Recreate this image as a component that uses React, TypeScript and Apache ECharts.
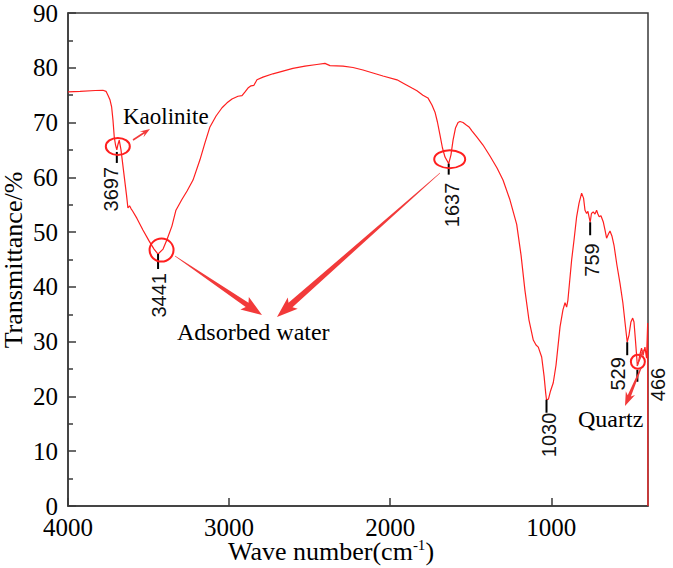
import React, { useEffect, useRef } from "react";
import * as echarts from "echarts";

// FTIR spectrum: wave number (cm-1) against transmittance (%)
const wavenumbers = [
  4000, 3925, 3830, 3783, 3764, 3752, 3739, 3729, 3721, 3713, 3705, 3697, 3690, 3682, 3671, 3652, 3637,
  3628, 3618, 3609, 3600, 3572, 3535, 3497, 3466, 3441, 3410, 3386, 3355, 3330, 3294, 3261, 3224,
  3181, 3150, 3119, 3081, 3044, 3013, 2982, 2945, 2920, 2901, 2883, 2864, 2846, 2827, 2790, 2728,
  2666, 2604, 2529, 2456, 2405, 2374, 2293, 2231, 2169, 2107, 2045, 1958, 1908, 1865, 1834, 1797,
  1766, 1741, 1722, 1707, 1691, 1676, 1660, 1637, 1623, 1610, 1595, 1579, 1567, 1548, 1530, 1511,
  1493, 1463, 1424, 1381, 1337, 1300, 1257, 1215, 1188, 1164, 1139, 1112, 1095, 1081, 1060, 1045,
  1035, 1030, 1018, 1005, 988, 971, 946, 928, 915, 905, 897, 874, 859, 843, 828, 812, 800, 791,
  781, 773, 759, 751, 740, 729, 719, 711, 703, 692, 678, 667, 657, 645, 636, 624, 611, 593, 574,
  556, 543, 529, 518, 506, 495, 487, 478, 466, 459, 450, 440, 430, 419, 409, 402, 400,
];
const transmittance = [
  75.6, 75.7, 75.85, 75.9, 75.7, 75.0, 74.1, 72.8, 70.5, 67.4, 65.9, 65.0, 66.0, 66.8, 65.0, 60.4, 56.8,
  54.4, 54.8, 54.3, 53.9, 52.5, 50.4, 48.4, 46.9, 46.0, 46.9, 48.6, 51.1, 54.0, 55.9, 57.5, 59.5,
  63.2, 66.3, 69.2, 71.2, 72.7, 73.6, 74.3, 74.8, 74.9, 75.6, 76.3, 76.7, 76.8, 77.8, 78.3, 78.9,
  79.4, 79.9, 80.3, 80.6, 80.8, 80.4, 80.3, 80.05, 79.6, 79.05, 78.5, 77.8, 77.0, 76.3, 75.8, 75.0,
  74.5, 73.2, 71.9, 70.1, 67.7, 65.4, 63.7, 62.5, 64.1, 66.8, 69.0, 70.0, 70.2, 70.0, 69.6, 69.2,
  68.5, 67.4, 65.9, 63.9, 61.7, 59.5, 55.9, 51.4, 45.8, 39.4, 34.0, 30.3, 29.4, 29.0, 27.2, 23.7,
  20.6, 19.4, 19.5, 21.0, 22.5, 25.7, 32.7, 35.8, 37.1, 36.3, 37.6, 44.9, 48.6, 52.8, 55.3, 57.1, 56.2, 54.0,
  53.4, 53.8, 51.8, 53.4, 53.7, 53.3, 54.0, 53.3, 52.8, 53.0, 51.9, 50.4, 48.9, 49.7, 50.2, 49.3, 47.6, 44.0, 40.7,
  37.1, 33.6, 29.9, 31.2, 33.6, 34.3, 33.6, 30.3, 25.6, 26.3, 27.7, 28.8, 27.6, 29.0, 27.0, 33.4, 0,
];

// Assigned absorption bands
const peakPositions = [3697, 3441, 1637, 1030, 759, 529, 466];
const peakValues = [65.0, 46.0, 62.5, 19.4, 51.8, 29.9, 25.6];
// Bands that are ringed
const circledPeaks = [3697, 3441, 1637, 466];

const xTickValues = [4000, 3000, 2000, 1000];
const yMin = 0;
const yMax = 90;
const yStep = 10;

const xTitle = "Wave number(cm";
const xTitleSup = "-1";
const yTitle = "Transmittance/%";
const annotationTexts = { kaolinite: "Kaolinite", water: "Adsorbed water", quartz: "Quartz" };

// Label placement relative to each band (pixels): label x shift, tick start/end, label top
const peakLabelLayout: Record<number, { dx: number; t0: number; t1: number; top: number }> = {
  3697: { dx: -6, t0: 2, t1: 13, top: 17 },
  3441: { dx: 1, t0: 0, t1: 15, top: 19 },
  1637: { dx: 3, t0: 0, t1: 11, top: 19 },
  1030: { dx: 2, t0: 0, t1: 13, top: 13 },
  759: { dx: 2, t0: 0, t1: 13, top: 21 },
  529: { dx: -9, t0: 0, t1: 13, top: 15 },
  466: { dx: 21, t0: 4, t1: 16, top: 2 },
};
const circleLayout: Record<number, { dx: number; dy: number; rx: number; ry: number }> = {
  3697: { dx: 1, dy: -3.5, rx: 12, ry: 8.5 },
  3441: { dx: 3.5, dy: -4, rx: 12, ry: 11.5 },
  1637: { dx: 1, dy: -4.5, rx: 15.5, ry: 9 },
  466: { dx: 0.5, dy: -4, rx: 7, ry: 7 },
};

const SERIF = "'Liberation Serif', 'Times New Roman', serif";
const SANS = "'Liberation Sans', Arial, sans-serif";
const RED = "#ff1f1f";
const ARROW = "#f23a3a";
const FRAME = "#3a3a3a";

function arrowPolygon(
  x1: number, y1: number, x2: number, y2: number,
  w0: number, w1: number, headLen: number, headW: number
): number[][] {
  const dx = x2 - x1;
  const dy = y2 - y1;
  const L = Math.hypot(dx, dy);
  const ux = dx / L;
  const uy = dy / L;
  const nx = -uy;
  const ny = ux;
  const bx = x2 - ux * headLen;
  const by = y2 - uy * headLen;
  const wx = bx - ux * 3;
  const wy = by - uy * 3;
  return [
    [x1 + (nx * w0) / 2, y1 + (ny * w0) / 2],
    [bx + (nx * w1) / 2, by + (ny * w1) / 2],
    [wx + (nx * headW) / 2, wy + (ny * headW) / 2],
    [x2, y2],
    [wx - (nx * headW) / 2, wy - (ny * headW) / 2],
    [bx - (nx * w1) / 2, by - (ny * w1) / 2],
    [x1 - (nx * w0) / 2, y1 - (ny * w0) / 2],
  ];
}

function arrow(x1: number, y1: number, x2: number, y2: number, w0: number, w1: number, hl: number, hw: number) {
  return {
    type: "polygon",
    z: 10,
    shape: { points: arrowPolygon(x1, y1, x2, y2, w0, w1, hl, hw) },
    style: { fill: ARROW, stroke: "none" },
  };
}

export default function App() {
  const ref = useRef<HTMLDivElement>(null);

  useEffect(() => {
    if (!ref.current) return;
    const chart = echarts.init(ref.current, undefined, { renderer: "svg" });

    const spectrum = wavenumbers.map((w, i) => [w, transmittance[i]]);
    const peaks = peakPositions.map((w, i) => [w, peakValues[i]]);
    const rings = circledPeaks.map((w) => [w, peakValues[peakPositions.indexOf(w)]]);

    chart.setOption({
      animation: false,
      backgroundColor: "#ffffff",
      grid: {
        left: 68,
        right: 25,
        top: 13,
        bottom: 62,
        show: true,
        borderColor: FRAME,
        borderWidth: 1.5,
        backgroundColor: "transparent",
      },
      xAxis: {
        type: "value",
        min: 400,
        max: 4000,
        inverse: true,
        axisLine: { show: true, lineStyle: { color: FRAME, width: 1.5 } },
        axisTick: {
          show: true,
          inside: true,
          length: 8,
          customValues: xTickValues,
          lineStyle: { color: FRAME, width: 1.5 },
        },
        axisLabel: {
          customValues: xTickValues,
          formatter: (v: number) => String(v),
          color: "#000",
          fontFamily: SERIF,
          fontSize: 25,
          lineHeight: 18,
          margin: 12,
        },
        splitLine: { show: false },
      },
      yAxis: {
        type: "value",
        min: yMin,
        max: yMax,
        interval: yStep,
        axisLine: { show: true, lineStyle: { color: FRAME, width: 1.5 } },
        axisTick: { show: true, inside: true, length: 8, lineStyle: { color: FRAME, width: 1.5 } },
        minorTick: { show: true, splitNumber: 2, length: 5, lineStyle: { color: FRAME, width: 1.5 } },
        axisLabel: {
          color: "#000",
          fontFamily: SERIF,
          fontSize: 25,
          lineHeight: 18,
          margin: 10,
        },
        splitLine: { show: false },
        minorSplitLine: { show: false },
      },
      series: [
        {
          type: "line",
          data: spectrum,
          showSymbol: false,
          symbol: "none",
          lineStyle: { color: RED, width: 1.2 },
          z: 2,
        },
        {
          type: "custom",
          data: peaks,
          clip: false,
          z: 4,
          renderItem: (params: any, api: any) => {
            const w = api.value(0);
            const p = api.coord([w, api.value(1)]);
            const lay = peakLabelLayout[w] || { dx: 0, t0: 0, t1: 13, top: 16 };
            return {
              type: "group",
              children: [
                {
                  type: "line",
                  shape: { x1: p[0], y1: p[1] + lay.t0, x2: p[0], y2: p[1] + lay.t1 },
                  style: { stroke: "#000", lineWidth: 2 },
                },
                {
                  type: "text",
                  x: p[0] + lay.dx,
                  y: p[1] + lay.top,
                  rotation: Math.PI / 2,
                  style: {
                    text: String(w),
                    fill: "#111",
                    font: `20px ${SANS}`,
                    align: "right",
                    verticalAlign: "middle",
                  },
                },
              ],
            };
          },
        },
        {
          type: "custom",
          data: rings,
          clip: false,
          z: 5,
          renderItem: (params: any, api: any) => {
            const w = api.value(0);
            const p = api.coord([w, api.value(1)]);
            const c = circleLayout[w];
            return {
              type: "ellipse",
              shape: { cx: p[0] + c.dx, cy: p[1] + c.dy, rx: c.rx, ry: c.ry },
              style: { fill: "none", stroke: RED, lineWidth: 2 },
            };
          },
        },
      ],
      graphic: [
        {
          type: "text",
          x: 13,
          y: 260,
          rotation: Math.PI / 2,
          style: {
            text: yTitle,
            fill: "#000",
            font: `26px ${SERIF}`,
            align: "center",
            verticalAlign: "middle",
          },
        },
        {
          type: "text",
          x: 228,
          y: 551,
          style: {
            text: `{a|${xTitle}}{b|${xTitleSup}}{a|)}`,
            verticalAlign: "middle",
            rich: {
              a: { fontFamily: SERIF, fontSize: 26, lineHeight: 24, fill: "#000", color: "#000" },
              b: {
                fontFamily: SERIF,
                fontSize: 15,
                lineHeight: 15,
                fill: "#000",
                color: "#000",
                padding: [0, 0, 12, 0],
              },
            },
          },
        },
        {
          type: "text",
          x: 123,
          y: 116,
          style: {
            text: annotationTexts.kaolinite,
            fill: "#000",
            font: `23px ${SERIF}`,
            align: "left",
            verticalAlign: "middle",
          },
        },
        {
          type: "text",
          x: 177,
          y: 332,
          style: {
            text: annotationTexts.water,
            fill: "#000",
            font: `24px ${SERIF}`,
            align: "left",
            verticalAlign: "middle",
          },
        },
        {
          type: "text",
          x: 578,
          y: 419,
          style: {
            text: annotationTexts.quartz,
            fill: "#000",
            font: `24px ${SERIF}`,
            align: "left",
            verticalAlign: "middle",
          },
        },
        arrow(133, 140, 150, 129, 1.5, 1.8, 7, 7),
        arrow(175, 256, 262, 315, 0.6, 5, 18, 15),
        arrow(440, 173, 277, 317, 0.4, 6, 18, 15),
        arrow(641, 368, 625, 406, 1.2, 3.5, 11, 10),
        arrow(637, 366, 644, 349, 1, 1.5, 5, 5),
      ],
    });

    return () => {
      chart.dispose();
    };
  }, []);

  return (
    <div
      ref={ref}
      style={{ position: "absolute", left: 0, top: 0, width: 673, height: 568, background: "#fff" }}
    />
  );
}
